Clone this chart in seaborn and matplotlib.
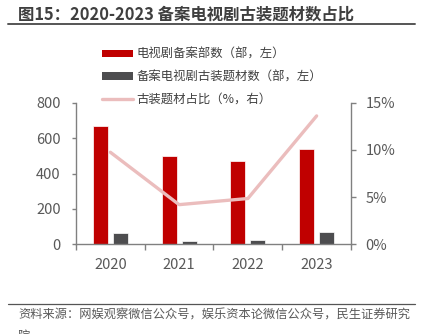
import numpy as np
import pandas as pd
import matplotlib
matplotlib.use('Agg')
import matplotlib.pyplot as plt
import seaborn as sns
from matplotlib.ticker import FuncFormatter
from matplotlib.lines import Line2D
from matplotlib.patches import Patch

# ---- data ----
years = ['2020', '2021', '2022', '2023']
filings = [670, 497, 470, 537]          # 电视剧备案部数
costume = [64, 20, 22, 70]              # 备案电视剧古装题材数
share_pct = [9.75, 4.2, 4.85, 13.6]     # 古装题材占比 (%)
series_names = ['电视剧备案部数（部，左）', '备案电视剧古装题材数（部，左）']
line_name = '古装题材占比（%，右）'
left_ticks = [0, 200, 400, 600, 800]
right_ticks = [0, 5, 10, 15]
title = '图15：2020-2023 备案电视剧古装题材数占比'
source_line1 = '资料来源：网娱观察微信公众号，娱乐资本论微信公众号，民生证券研究'
source_line2 = '院'

RED = '#C00000'
DARK = '#4D4D4F'
PINK = '#EBBDBD'
GRAY = '#808080'
TXT = '#595959'

sns.set_theme(style='ticks')
plt.rcParams['font.family'] = ['Noto Sans CJK SC', 'DejaVu Sans']

df = pd.DataFrame({
    'year': years * 2,
    'value': filings + costume,
    'series': [series_names[0]] * len(years) + [series_names[1]] * len(years),
})

W, H = 427, 334
fig = plt.figure(figsize=(W / 100, H / 100), dpi=100)
ax = fig.add_axes([76 / W, 1 - 244.3 / H, 275 / W, 141.6 / H])

sns.barplot(data=df, x='year', y='value', hue='series',
            palette=[RED, DARK], width=0.58, gap=0.25, ax=ax,
            legend=False, edgecolor='white', linewidth=0.5, saturation=1)

ax2 = ax.twinx()
sns.lineplot(x=np.arange(len(years)), y=share_pct, ax=ax2, color=PINK,
             linewidth=2.4, legend=False)

ax.set_xlim(-0.5, len(years) - 0.5)
ax.set_ylim(0, 800)
ax2.set_ylim(0, 15)
ax.set_yticks(left_ticks)
ax2.set_yticks(right_ticks)
ax2.yaxis.set_major_formatter(FuncFormatter(lambda v, p: f'{int(v)}%'))

ax.set_xticks(range(len(years)))
ax.set_xticklabels(years)
ax.set_xticks(np.arange(-0.5, len(years), 1), minor=True)
ax.set_xlabel('')
ax.set_ylabel('')
ax2.set_ylabel('')

for a in (ax, ax2):
    a.spines['top'].set_visible(False)
    for s in ('left', 'right', 'bottom'):
        a.spines[s].set_color(GRAY)
        a.spines[s].set_linewidth(1.0)
ax.spines['right'].set_visible(False)
ax2.spines['left'].set_visible(False)
ax2.spines['bottom'].set_visible(False)

ax.tick_params(axis='x', which='major', length=0, pad=10, labelsize=10.5, labelcolor=TXT)
ax.tick_params(axis='x', which='minor', length=4, width=1, color=GRAY, direction='out')
ax.tick_params(axis='y', length=3, width=1, color=GRAY, pad=8, labelsize=10.5, labelcolor=TXT)
ax2.tick_params(axis='y', length=3.6, width=1, color=GRAY, pad=7, labelsize=10.5, labelcolor=TXT)

# legend
handles = [Patch(facecolor=RED, edgecolor='none'),
           Patch(facecolor=DARK, edgecolor='none'),
           Line2D([0], [0], color=PINK, linewidth=2.4)]
labels = series_names + [line_name]
fig.legend(handles, labels, loc='upper left', bbox_to_anchor=(91 / W, 1 - 37 / H),
           frameon=False, fontsize=8.9, handlelength=2.5, handleheight=0.55,
           labelspacing=0.75, handletextpad=0.3, labelcolor='#404040')

# title and rules
fig.text(18 / W, 1 - 15 / H, title, fontsize=11.8, fontweight='bold',
         color='#3F3F3F', ha='left', va='center')
fig.add_artist(Line2D([8 / W, 415 / W], [1 - 24 / H, 1 - 24 / H],
                      color='#555555', linewidth=1.4, transform=fig.transFigure))
fig.add_artist(Line2D([8 / W, 415 / W], [1 - 304 / H, 1 - 304 / H],
                      color='#555555', linewidth=0.9, transform=fig.transFigure))
fig.text(18 / W, 1 - 315 / H, source_line1, fontsize=8.8, color=TXT,
         ha='left', va='center')
fig.text(18 / W, 1 - 336 / H, source_line2, fontsize=8.8, color=TXT,
         ha='left', va='center')

fig.savefig('out.png', dpi=100, facecolor='white')
